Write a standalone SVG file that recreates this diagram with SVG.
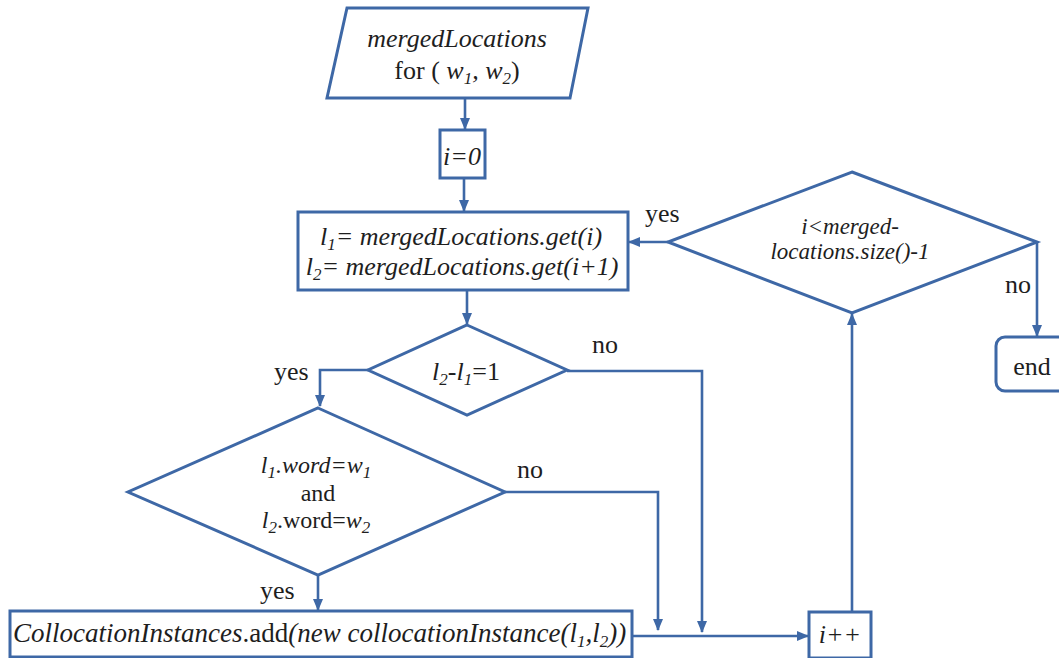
<svg xmlns="http://www.w3.org/2000/svg" width="1059" height="658" viewBox="0 0 1059 658">
<style>
.s{fill:#fff;stroke:#3e68a6;stroke-width:3;stroke-linejoin:miter}
.c{fill:none;stroke:#3e68a6;stroke-width:2.6}
text{font-family:'Liberation Serif','Times New Roman','DejaVu Serif',serif;fill:#1e1e1e;font-size:26px}
.m{text-anchor:middle}
.i{font-style:italic}
.sub{font-size:17px}
</style>
<defs>
<marker id="a" markerUnits="userSpaceOnUse" markerWidth="12" markerHeight="12" viewBox="0 0 12 12" refX="11" refY="6" orient="auto">
<path d="M0,1 L12,6 L0,11 Z" fill="#3e68a6"/>
</marker>
</defs>
<rect width="1059" height="658" fill="#fff"/>
<g id="connectors">
<path class="c" d="M465,98 V129" marker-end="url(#a)"/>
<path class="c" d="M464,178 V211" marker-end="url(#a)"/>
<path class="c" d="M467,290 V324" marker-end="url(#a)"/>
<path class="c" d="M368,370 H320 V406" marker-end="url(#a)"/>
<path class="c" d="M567,371 H702 V632" marker-end="url(#a)"/>
<path class="c" d="M505,492 H658 V630" marker-end="url(#a)"/>
<path class="c" d="M318,575 V610" marker-end="url(#a)"/>
<path class="c" d="M632,636 H808" marker-end="url(#a)"/>
<path class="c" d="M852,612 V314" marker-end="url(#a)"/>
<path class="c" d="M668,242 H629" marker-end="url(#a)"/>
<path class="c" d="M1037,242 V336" marker-end="url(#a)"/>
<text x="645" y="222">yes</text>
<text x="1005" y="293">no</text>
<text x="592" y="353">no</text>
<text x="274" y="380">yes</text>
<text x="517" y="478">no</text>
<text x="260" y="599">yes</text>
</g>
<g id="input">
<polygon class="s" points="347,8 588,8 570,98 327,98"/>
<text class="m i" x="457" y="47">mergedLocations</text>
<text class="m" x="457" y="79">for ( <tspan class="i">w</tspan><tspan class="i sub" dy="5">1</tspan><tspan class="i" dy="-5">, w</tspan><tspan class="i sub" dy="5">2</tspan><tspan dy="-5">)</tspan></text>
</g>
<g id="init">
<rect class="s" x="440" y="130" width="45" height="48"/>
<text class="m i" x="462" y="165">i=0</text>
</g>
<g id="assign">
<rect class="s" x="298" y="212" width="330" height="78"/>
<text class="m i" x="461" y="245">l<tspan class="sub" dy="5">1</tspan><tspan dy="-5">= mergedLocations.get(i)</tspan></text>
<text class="m i" x="462" y="275">l<tspan class="sub" dy="5">2</tspan><tspan dy="-5">= mergedLocations.get(i+1)</tspan></text>
</g>
<g id="check-adjacent">
<polygon class="s" points="467,325 567,370 467,415 368,370"/>
<text class="m" x="466" y="380"><tspan class="i">l</tspan><tspan class="i sub" dy="5">2</tspan><tspan dy="-5">-</tspan><tspan class="i">l</tspan><tspan class="i sub" dy="5">1</tspan><tspan dy="-5">=1</tspan></text>
</g>
<g id="check-words">
<polygon class="s" points="318,408 505,492 318,575 128,492"/>
<text class="m i" x="316" y="473" style="font-size:24px">l<tspan class="sub" dy="5">1</tspan><tspan dy="-5">.word=w</tspan><tspan class="sub" dy="5">1</tspan></text>
<text class="m" x="318" y="501" style="font-size:24px">and</text>
<text class="m" x="316" y="528" style="font-size:24px"><tspan class="i">l</tspan><tspan class="i sub" dy="5">2</tspan><tspan dy="-5">.word=</tspan><tspan class="i">w</tspan><tspan class="i sub" dy="5">2</tspan></text>
</g>
<g id="add">
<rect class="s" x="10" y="611" width="622" height="46"/>
<text x="13" y="642" style="font-size:27px"><tspan class="i">CollocationInstances</tspan>.add<tspan class="i">(new collocationInstance(l</tspan><tspan class="i sub" dy="5">1</tspan><tspan class="i" dy="-5">,l</tspan><tspan class="i sub" dy="5">2</tspan><tspan class="i" dy="-5">))</tspan></text>
</g>
<g id="increment">
<rect class="s" x="809" y="612" width="62" height="46"/>
<text class="m i" x="840" y="643">i++</text>
</g>
<g id="loop-check">
<polygon class="s" points="852,172 1037,242 852,313 668,242"/>
<text class="m i" x="850" y="234" style="font-size:23px">i&lt;merged-</text>
<text class="m i" x="850" y="259" style="font-size:23px">locations.size()-1</text>
</g>
<g id="end">
<rect class="s" x="996" y="337" width="72" height="54" rx="9"/>
<text class="m" x="1032" y="375">end</text>
</g>
</svg>
